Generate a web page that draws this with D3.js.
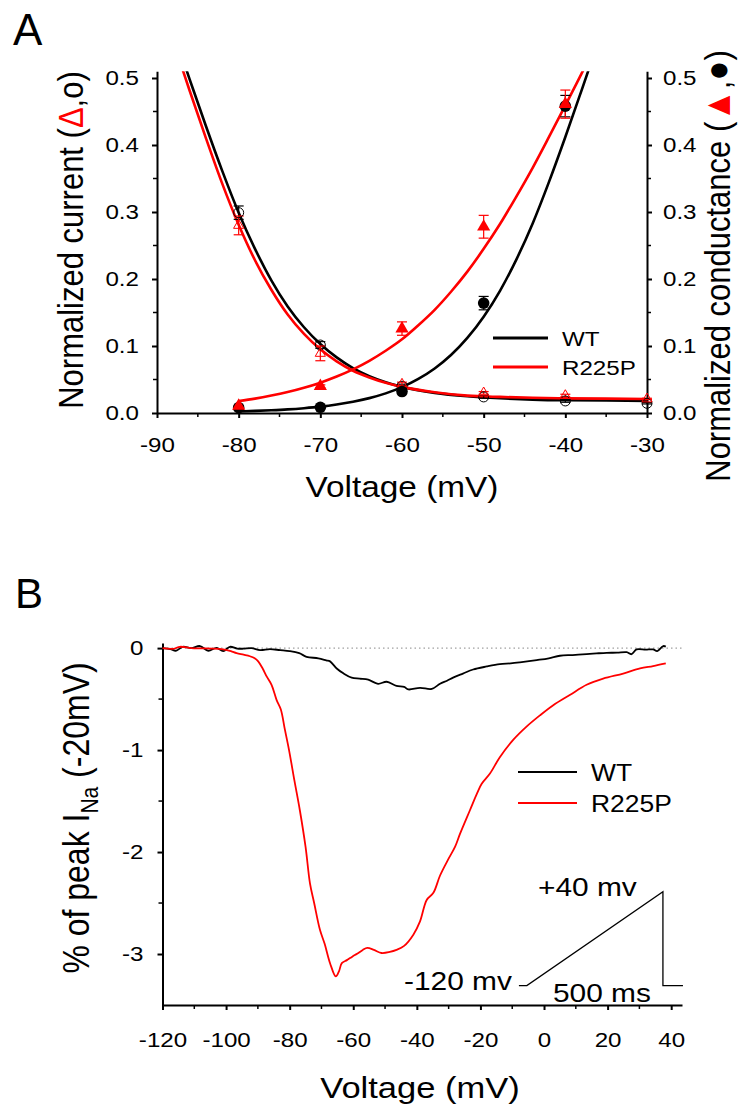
<!DOCTYPE html>
<html><head><meta charset="utf-8">
<script src="https://cdn.jsdelivr.net/npm/d3@7"></script>
<style>body{margin:0;background:#fff} text{font-family:"Liberation Sans",Arial,sans-serif;fill:#000}</style>
</head><body><svg id="c" width="741" height="1109"></svg>
<script>
// ---------- Panel A data ----------
const voltA = [-80,-70,-60,-50,-40,-30];
const wtCurrent = [0.299,0.1015,0.040,0.024,0.018,0.0145];
const wtCurrentErr = [0.010,0.005,0.003,0.002,0.002,0.001];
const rpCurrent = [0.280,0.089,0.043,0.030,0.026,0.021];
const rpCurrentErr = [0.014,0.011,0.003,0.002,0.002,0.001];
const voltG = [-80,-70,-60,-50,-40];
const wtCond = [0.008,0.0085,0.032,0.164,0.458];
const wtCondErr = [0.001,0.001,0.003,0.010,0.016];
const rpCond = [0.0105,0.040,0.126,0.278,0.461];
const rpCondErr = [0.001,0.002,0.010,0.017,0.021];
// fitted curves
const fitInactV = [-88,-86,-84,-82,-80,-78,-76,-74,-72,-70,-68,-66,-64,-62,-60,-56,-52,-48,-44,-40,-35,-30];
const wtInactFit = [0.569,0.498,0.428,0.361,0.299,0.245,0.198,0.159,0.128,0.103,0.083,0.067,0.055,0.046,0.039,0.030,0.025,0.022,0.020,0.019,0.0186,0.018];
const rpInactFit = [0.554,0.481,0.410,0.342,0.281,0.228,0.184,0.147,0.118,0.095,0.077,0.063,0.053,0.045,0.039,0.031,0.026,0.024,0.0227,0.0219,0.0215,0.021];
const fitActV = [-80,-78,-76,-74,-72,-70,-68,-66,-64,-62,-60,-58,-56,-54,-52,-50,-48,-46,-44,-42,-40,-38,-36];
const wtActFit = [0.0023,0.0031,0.0041,0.0054,0.0072,0.0095,0.0127,0.0168,0.0222,0.0293,0.0386,0.0508,0.0664,0.0865,0.112,0.1437,0.1824,0.229,0.283,0.345,0.412,0.482,0.553];
const rpActFit = [0.018,0.0215,0.026,0.0313,0.0377,0.0453,0.0544,0.0651,0.0779,0.0929,0.110,0.131,0.154,0.181,0.211,0.245,0.282,0.323,0.366,0.412,0.459,0.507,0.555];
const xTicksA = [-90,-80,-70,-60,-50,-40,-30];
const yTicksA = [0,0.1,0.2,0.3,0.4,0.5];

// ---------- Panel B data ----------
const wtRampV = [-120,-117.5,-115.8,-113.6,-111,-108.2,-105.6,-103,-100.9,-98.8,-96.5,-94.6,-92,-89.3,-86.2,-83,-80,-77,-74.7,-71,-68.5,-67.3,-65.2,-63,-60.5,-58,-55.3,-52.2,-49.5,-46.4,-44,-42.7,-39,-35.3,-32.7,-30.5,-28.6,-25.5,-22.3,-18,-13.9,-10.5,-7.6,-2.3,1.5,5,9,13.4,16.5,19.7,23,26,27.5,29.1,32,34.3,35.6,37.5,38.3];
const wtRampI = [0,-0.01,-0.026,0.013,0.0,0.02,-0.026,0.003,-0.03,0.013,-0.005,-0.006,0.0,-0.02,-0.01,-0.02,-0.03,-0.05,-0.085,-0.10,-0.12,-0.13,-0.2,-0.25,-0.29,-0.30,-0.31,-0.35,-0.33,-0.37,-0.38,-0.405,-0.39,-0.40,-0.35,-0.32,-0.29,-0.25,-0.21,-0.18,-0.157,-0.15,-0.14,-0.118,-0.1,-0.075,-0.068,-0.059,-0.052,-0.046,-0.045,-0.04,-0.06,-0.013,-0.015,-0.013,-0.03,0.02,0.015];
const rpRampV = [-120,-116.6,-114.5,-111,-108.2,-104,-100.9,-98.5,-96.7,-94.5,-92.5,-91,-89.9,-88.5,-87.2,-85.7,-84.1,-82.8,-81.5,-80.2,-78.5,-76.8,-75,-73.6,-72.3,-70.5,-69,-67.3,-65.5,-64.5,-63.6,-62,-61,-59.5,-58.4,-57,-55.6,-53.5,-51.1,-48.5,-46.4,-44,-41.1,-39,-36.9,-34.8,-32.7,-30.1,-28,-26.4,-23.3,-21,-19.6,-17,-13.9,-9.7,-5.5,-1.3,2.9,8.1,13.4,18.6,24.9,30.2,34.3,38.3];
const rpRampI = [0,-0.007,0.013,0.0,-0.003,-0.005,-0.013,-0.03,-0.05,-0.065,-0.08,-0.1,-0.13,-0.2,-0.28,-0.36,-0.51,-0.6,-0.80,-1.0,-1.3,-1.59,-1.95,-2.31,-2.5,-2.76,-2.9,-3.09,-3.22,-3.17,-3.09,-3.06,-3.04,-3.01,-2.99,-2.96,-2.94,-2.96,-2.99,-2.98,-2.96,-2.92,-2.81,-2.68,-2.47,-2.40,-2.23,-2.07,-1.95,-1.82,-1.59,-1.42,-1.33,-1.23,-1.07,-0.90,-0.77,-0.66,-0.56,-0.46,-0.36,-0.30,-0.25,-0.20,-0.176,-0.15];
const xTicksB = [-120,-100,-80,-60,-40,-20,0,20,40];
const yTicksB = [0,-1,-2,-3];
// voltage protocol inset, drawn in panel B data units
const protoV = [-7.9,-5.4,37.4,37.4,43.7];
const protoI = [-3.31,-3.31,-2.39,-3.31,-3.31];

const RED = "#ff0000";
const SX = 1.15; // horizontal text stretch of the original figure
const svg = d3.select("#c");

function label(g, x, y, str, size, opts = {}) {
  const t = g.append("text")
    .attr("transform", `translate(${x},${y}) scale(${opts.sx || SX},1)` + (opts.rot ? ` rotate(${opts.rot})` : ""))
    .attr("font-size", size)
    .attr("text-anchor", opts.anchor || "start");
  if (str !== null) t.text(str);
  return t;
}
function stretchAxisText(g, size) {
  g.selectAll(".tick text").each(function() {
    const t = d3.select(this);
    const x = +t.attr("x") || 0;
    t.attr("x", 0).attr("transform", `translate(${x},0) scale(${SX},1)`)
     .attr("font-size", size).attr("font-family", '"Liberation Sans",Arial,sans-serif').attr("fill", "#000");
  });
}
const fmt = f => d => d3.format(f)(d).replace("\u2212", "-");

// ================= Panel A =================
const xA = d3.scaleLinear().domain([-90, -30]).range([157, 647]);
const yA = d3.scaleLinear().domain([0, 0.51]).range([413, 71.3]);
const gA = svg.append("g");

function axisStyle(g, w) {
  g.selectAll("path.domain").attr("stroke", "#000").attr("stroke-width", w);
  g.selectAll(".tick line").attr("stroke", "#000").attr("stroke-width", w);
}
const minorXA = d3.range(-85, -30, 10);
const minorYA = d3.range(0.05, 0.51, 0.1);
gA.append("g").selectAll("line").data(minorXA).join("line")
  .attr("x1", d => xA(d)).attr("x2", d => xA(d)).attr("y1", 413).attr("y2", 417).attr("stroke", "#000").attr("stroke-width", 1.5);
gA.append("g").selectAll("line").data(minorYA).join("line")
  .attr("x1", 153).attr("x2", 157).attr("y1", d => yA(d)).attr("y2", d => yA(d)).attr("stroke", "#000").attr("stroke-width", 1.5);
gA.append("g").selectAll("line").data(minorYA).join("line")
  .attr("x1", 647).attr("x2", 651).attr("y1", d => yA(d)).attr("y2", d => yA(d)).attr("stroke", "#000").attr("stroke-width", 1.5);

const axXA = gA.append("g").attr("transform", "translate(0,413)")
  .call(d3.axisBottom(xA).tickValues(xTicksA).tickSize(5).tickPadding(19).tickSizeOuter(0).tickFormat(fmt("d")));
const axYA = gA.append("g").attr("transform", "translate(157,0)")
  .call(d3.axisLeft(yA).tickValues(yTicksA).tickSize(5).tickPadding(13).tickSizeOuter(0).tickFormat(fmt(".1f")));
const axYA2 = gA.append("g").attr("transform", "translate(647,0)")
  .call(d3.axisRight(yA).tickValues(yTicksA).tickSize(5).tickPadding(11).tickSizeOuter(0).tickFormat(fmt(".1f")));
[axXA, axYA, axYA2].forEach(a => { axisStyle(a, 2); stretchAxisText(a, 21); });

// curves
gA.append("clipPath").attr("id", "clipA").append("rect").attr("x", 150).attr("y", yA(0.51)).attr("width", 510).attr("height", 400);
const lineA = (vs, ys) => d3.line().x((d, i) => xA(vs[i])).y(d => yA(d)).curve(d3.curveMonotoneX)(ys);
const curves = gA.append("g").attr("clip-path", "url(#clipA)").attr("fill", "none").attr("stroke-width", 2.6);
curves.append("path").attr("d", lineA(fitInactV, wtInactFit)).attr("stroke", "#000");
curves.append("path").attr("d", lineA(fitActV, wtActFit)).attr("stroke", "#000");
curves.append("path").attr("d", lineA(fitInactV, rpInactFit)).attr("stroke", RED);
curves.append("path").attr("d", lineA(fitActV, rpActFit)).attr("stroke", RED);

// error bars
function errBars(vs, ys, es, color) {
  const g = gA.append("g").attr("stroke", color).attr("stroke-width", 1.2);
  vs.forEach((v, i) => {
    const x = xA(v), y0 = yA(ys[i] - es[i]), y1 = yA(ys[i] + es[i]);
    g.append("line").attr("x1", x).attr("x2", x).attr("y1", y0).attr("y2", y1);
    g.append("line").attr("x1", x - 5).attr("x2", x + 5).attr("y1", y0).attr("y2", y0);
    g.append("line").attr("x1", x - 5).attr("x2", x + 5).attr("y1", y1).attr("y2", y1);
  });
}
errBars(voltA, wtCurrent, wtCurrentErr, "#000");
errBars(voltA, rpCurrent, rpCurrentErr, RED);
errBars(voltG, wtCond, wtCondErr, "#000");
errBars(voltG, rpCond, rpCondErr, RED);

const tri = d3.symbol().type(d3.symbolTriangle);
gA.append("g").selectAll("circle").data(wtCurrent).join("circle")
  .attr("cx", (d, i) => xA(voltA[i])).attr("cy", d => yA(d)).attr("r", 5)
  .attr("fill", "none").attr("stroke", "#000").attr("stroke-width", 1);
gA.append("g").selectAll("path").data(rpCurrent).join("path")
  .attr("transform", (d, i) => `translate(${xA(voltA[i])},${yA(d)})`).attr("d", tri.size(45)())
  .attr("fill", "none").attr("stroke", RED).attr("stroke-width", 1);
gA.append("g").selectAll("circle").data(wtCond).join("circle")
  .attr("cx", (d, i) => xA(voltG[i])).attr("cy", d => yA(d)).attr("r", 5.8).attr("fill", "#000");
gA.append("g").selectAll("path").data(rpCond).join("path")
  .attr("transform", (d, i) => `translate(${xA(voltG[i])},${yA(d)})`).attr("d", tri.size(75)())
  .attr("fill", RED);

// legend A
const legA = gA.append("g");
[["WT", "#000", 338], ["R225P", RED, 367]].forEach(([n, c, y]) => {
  legA.append("line").attr("x1", 493).attr("x2", 548).attr("y1", y).attr("y2", y).attr("stroke", c).attr("stroke-width", 3);
  label(legA, 562, y + 7.5, n, 21);
});

// titles A
label(gA, 13, 45, "A", 44, { sx: 1 });
label(gA, 402, 497, "Voltage (mV)", 29, { anchor: "middle" });
const tl = label(gA, 83, 240, null, 31, { anchor: "middle", rot: -90 });
tl.append("tspan").text("Normalized current (");
tl.append("tspan").style("fill", RED).text("\u0394");
tl.append("tspan").text(",o)");
const tr = label(gA, 730, 266, null, 31, { anchor: "middle", rot: -90 });
tr.append("tspan").text("Normalized conductance (");
tr.append("tspan").style("fill", RED).attr("font-size", 33).text("\u25B2");
tr.append("tspan").text(",");
tr.append("tspan").attr("font-size", 33).text("\u25CF");
tr.append("tspan").text(")");

// ================= Panel B =================
const xB = d3.scaleLinear().domain([-120, 43.4]).range([162.5, 682]);
const yB = d3.scaleLinear().domain([-3.5, 0.05]).range([1005, 643]);
const gB = svg.append("g");

gB.append("line").attr("x1", xB(-120)).attr("x2", xB(43.7)).attr("y1", yB(0)).attr("y2", yB(0))
  .attr("stroke", "#888").attr("stroke-width", 1).attr("stroke-dasharray", "1.5,3");

const minorXB = d3.range(-110, 41, 20);
const minorYB = [-0.5, -1.5, -2.5];
gB.append("g").selectAll("line").data(minorXB).join("line")
  .attr("x1", d => xB(d)).attr("x2", d => xB(d)).attr("y1", 1005).attr("y2", 1009).attr("stroke", "#000").attr("stroke-width", 1.5);
gB.append("g").selectAll("line").data(minorYB).join("line")
  .attr("x1", 158.5).attr("x2", 162.5).attr("y1", d => yB(d)).attr("y2", d => yB(d)).attr("stroke", "#000").attr("stroke-width", 1.5);

const axXB = gB.append("g").attr("transform", "translate(0,1005)")
  .call(d3.axisBottom(xB).tickValues(xTicksB).tickSize(5).tickPadding(22).tickSizeOuter(0).tickFormat(fmt("d")));
const axYB = gB.append("g").attr("transform", "translate(162.5,0)")
  .call(d3.axisLeft(yB).tickValues(yTicksB).tickSize(5).tickPadding(14).tickSizeOuter(0).tickFormat(fmt("d")));
[axXB, axYB].forEach(a => { axisStyle(a, 2); stretchAxisText(a, 21); });

const lineB = (vs, ys) => d3.line().x((d, i) => xB(vs[i])).y(d => yB(d)).curve(d3.curveCatmullRom)(ys);
gB.append("path").attr("d", lineB(wtRampV, wtRampI)).attr("fill", "none").attr("stroke", "#000").attr("stroke-width", 1.8);
gB.append("path").attr("d", lineB(rpRampV, rpRampI)).attr("fill", "none").attr("stroke", RED).attr("stroke-width", 1.8);

// legend B
const legB = gB.append("g");
[["WT", "#000", 772], ["R225P", RED, 803]].forEach(([n, c, y]) => {
  legB.append("line").attr("x1", 518).attr("x2", 577).attr("y1", y).attr("y2", y).attr("stroke", c).attr("stroke-width", 2);
  label(legB, 591, y + 8.5, n, 23);
});

// protocol inset
gB.append("path").attr("d", d3.line().x((d, i) => xB(protoV[i])).y(d => yB(d))(protoI))
  .attr("fill", "none").attr("stroke", "#000").attr("stroke-width", 1.3);
label(gB, xB(-1.9), yB(-2.43), "+40 mv", 26);
label(gB, xB(-10.1), yB(-3.35), "-120 mv", 26, { anchor: "end" });
label(gB, xB(2.8), yB(-3.47), "500 ms", 26);

// titles B
label(gB, 15, 608, "B", 42, { sx: 1 });
label(gB, 420, 1098, "Voltage (mV)", 30, { anchor: "middle" });
const tb = label(gB, 89, 818, null, 32, { anchor: "middle", rot: -90 });
tb.append("tspan").text("% of peak I");
tb.append("tspan").attr("font-size", 21).attr("dy", 8).text("Na");
tb.append("tspan").attr("dy", -8).text(" (-20mV)");
</script></body></html>
